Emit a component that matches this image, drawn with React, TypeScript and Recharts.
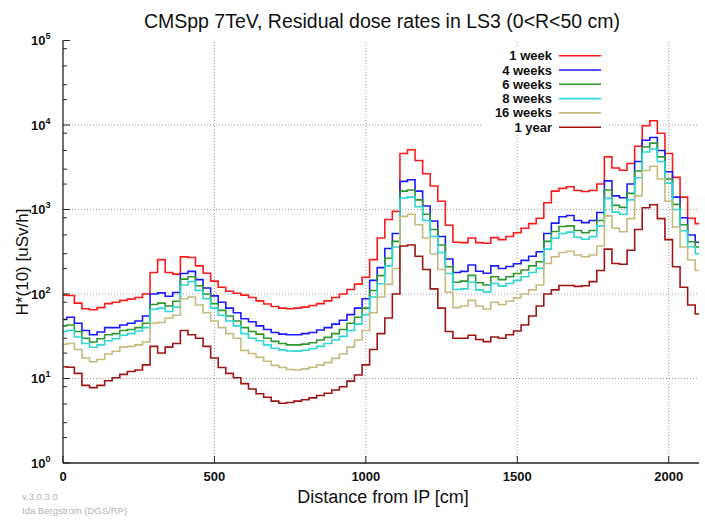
import React from 'react';
import { LineChart, Line, XAxis, YAxis, ReferenceLine } from 'recharts';

// distance from IP [cm], sampled every 25 cm
const DIST = [
  0, 25, 50, 75, 100, 125, 150, 175, 200, 225, 250, 275, 300, 325, 350, 375, 400, 425, 450, 475,
  500, 525, 550, 575, 600, 625, 650, 675, 700, 725, 750, 775, 800, 825, 850, 875, 900, 925, 950, 975,
  1000, 1025, 1050, 1075, 1100, 1125, 1150, 1175, 1200, 1225, 1250, 1275, 1300, 1325, 1350, 1375,
  1400, 1425, 1450, 1475, 1500, 1525, 1550, 1575, 1600, 1625, 1650, 1675, 1700, 1725, 1750, 1775,
  1800, 1825, 1850, 1875, 1900, 1925, 1950, 1975, 2000, 2025, 2050, 2075, 2100,
];

// H*(10) [uSv/h]
const WEEK_1 = [
  97, 96, 78, 67, 65, 69, 77, 80, 84, 87, 91, 100, 180, 255, 180, 172, 275, 270, 215, 176,
  142, 120, 108, 102, 97, 91, 83, 76, 71, 68, 67, 68, 70, 73, 77, 83, 91, 100, 113, 131,
  158, 255, 460, 760, 950, 4600, 5100, 3800, 2650, 1900, 1250, 650, 410, 405, 460, 405,
  398, 465, 440, 480, 530, 600, 680, 787, 1200, 1650, 1780, 1860, 1680, 1630, 1680, 2000,
  4200, 3100, 2920, 3500, 5600, 9800, 11250, 8000, 4600, 2400, 1400, 787, 680,
];
const WEEKS_4 = [
  50, 53, 45, 37, 33, 35.5, 40, 40, 43, 45, 48, 55, 100, 103, 94, 104, 175, 185, 148, 118,
  95, 80, 68, 60, 51, 47, 42, 38, 35, 33.5, 33, 33, 34, 35, 37.5, 40, 44, 49, 57, 68,
  88, 145, 205, 345, 520, 2150, 2250, 1650, 1100, 730, 480, 260, 180, 185, 220, 186,
  176, 215, 200, 212, 228, 250, 280, 316, 520, 690, 820, 850, 740, 700, 740, 920,
  2180, 1450, 1380, 2000, 3700, 6600, 7100, 5000, 2800, 1400, 800, 499, 410,
];
const WEEKS_6 = [
  42, 43, 36, 30, 27, 29.5, 33, 34, 37, 38, 40, 45, 75, 78, 72, 82, 150, 160, 125, 100,
  77, 64, 55, 48, 40, 36, 33.5, 30, 27.5, 26, 25, 25, 25.5, 26.5, 28.5, 30.7, 34, 38, 45, 53,
  68, 110, 165, 265, 420, 1650, 1700, 1300, 880, 580, 380, 210, 138, 142, 166, 136,
  128, 160, 148, 160, 175, 192, 215, 241, 420, 550, 630, 640, 565, 531, 565, 740,
  1700, 1120, 1060, 1550, 2850, 5500, 6100, 4200, 2300, 1150, 660, 416, 360,
];
const WEEKS_8 = [
  36, 37, 31, 26, 23.4, 25, 28, 29.5, 32.5, 34, 36.5, 40, 66, 68, 62, 70, 128, 140, 110, 88,
  68, 56, 48, 42, 34, 30, 28, 25, 22.8, 21.8, 21.2, 21.1, 21.6, 22.5, 24, 26, 28.5, 31.5, 37, 44,
  57, 92, 132, 215, 360, 1370, 1400, 1080, 740, 480, 310, 175, 113, 115, 138, 112,
  106, 133, 124, 133, 145, 160, 180, 201, 340, 456, 520, 540, 470, 445, 477, 640,
  1360, 930, 880, 1300, 2380, 4800, 5200, 3700, 2050, 1000, 560, 363, 300,
];
const WEEKS_16 = [
  25.4, 26, 22, 17.5, 15.8, 16.8, 19.5, 21, 23.5, 24, 25, 27, 45, 46, 52, 56, 88, 92, 74, 60,
  48, 40, 34, 30, 21.5, 19.8, 17.8, 16, 14.3, 13.5, 12.8, 12.6, 13, 13.6, 14.4, 15.4, 17.3, 19.5, 23.5, 28.6,
  37, 60, 92, 130, 200, 830, 880, 660, 460, 300, 195, 105, 69, 72, 84, 72,
  66, 80, 75, 82, 90, 100, 112, 128, 230, 276, 310, 320, 289, 276, 289, 370,
  840, 600, 545, 780, 1450, 2900, 3250, 2300, 1250, 620, 360, 253, 190,
];
const YEAR_1 = [
  13.8, 13.6, 11.5, 8.3, 7.8, 8.3, 9.4, 10.2, 11.2, 12.1, 12.6, 14.5, 24, 20, 23.5, 26, 37, 33, 30, 24,
  17.5, 13.5, 11.5, 10.2, 8.7, 7.5, 6.6, 6, 5.4, 5.1, 5.2, 5.4, 5.6, 5.9, 6.3, 6.7, 7.3, 8, 9.3, 11,
  14.5, 22, 34, 52, 100, 370, 380, 280, 195, 115, 68, 36, 30, 30, 32.5, 29,
  27.3, 31, 30, 33, 36.5, 43, 55, 72, 100, 112, 126, 126, 123, 125, 140, 190,
  340, 230, 225, 330, 580, 1050, 1140, 780, 440, 210, 120, 74, 58,
];

const SERIES_NAMES = ['1 week', '4 weeks', '6 weeks', '8 weeks', '16 weeks', '1 year'];
const SERIES_KEYS = ['w1', 'w4', 'w6', 'w8', 'w16', 'y1'];
const SERIES_COLORS = ['#ff1a1a', '#1a1aff', '#2e962e', '#2ed6d6', '#c4bb7c', '#a01414'];

const X_TICKS = [0, 500, 1000, 1500, 2000];
const X_GRID = [500, 1000, 1500, 2000];
const Y_MAJOR = [1, 10, 100, 1000, 10000, 100000];
const Y_GRID = [10, 100, 1000, 10000];
const Y_MINOR_STEPS = [2, 3, 5, 8];

const rows = DIST.map((d, i) => ({
  d,
  w1: WEEK_1[i],
  w4: WEEKS_4[i],
  w6: WEEKS_6[i],
  w8: WEEKS_8[i],
  w16: WEEKS_16[i],
  y1: YEAR_1[i],
}));

const yTicks: number[] = [];
Y_MAJOR.forEach((m, i) => {
  yTicks.push(m);
  if (i < Y_MAJOR.length - 1) Y_MINOR_STEPS.forEach(s => yTicks.push(m * s));
});

const FONT = '"Liberation Sans", Arial, sans-serif';
const AXIS = '#222';

const isMajor = (v: number) => Math.abs(Math.log10(v) - Math.round(Math.log10(v))) < 1e-6;

const LeftTick = (props: any) => {
  const { x, y, payload } = props;
  const v = payload.value;
  const major = isMajor(v);
  return (
    <g>
      <line x1={x} y1={y} x2={x + (major ? 7 : 4)} y2={y} stroke={AXIS} strokeWidth={1} />
      {major && (
        <text x={x - 12.5} y={y + 4.5} textAnchor="end" fontFamily={FONT} fontSize={13} fontWeight="bold" fill="#111">
          10<tspan dy={-6} fontSize={9}>{Math.round(Math.log10(v))}</tspan>
        </text>
      )}
    </g>
  );
};

const RightTick = (props: any) => {
  const { x, y, payload } = props;
  const major = isMajor(payload.value);
  return <line x1={x} y1={y} x2={x - (major ? 7 : 4)} y2={y} stroke={AXIS} strokeWidth={1} />;
};

const BottomTick = (props: any) => {
  const { x, y, payload } = props;
  return (
    <g>
      <line x1={x} y1={y} x2={x} y2={y - 7} stroke={AXIS} strokeWidth={1} />
      <text x={x} y={y + 18} textAnchor="middle" fontFamily={FONT} fontSize={13} fontWeight="bold" fill="#111">
        {payload.value}
      </text>
    </g>
  );
};

const TopTick = (props: any) => {
  const { x, y } = props;
  return <line x1={x} y1={y} x2={x} y2={y + 7} stroke={AXIS} strokeWidth={1} />;
};

export default function App() {
  return (
    <div style={{ position: 'absolute', left: 0, top: 0, width: 705, height: 526, background: '#fff' }}>
      <LineChart width={705} height={526} data={rows} margin={{ top: 40.5, right: 6, bottom: 0, left: 0 }}>
        <XAxis
          dataKey="d"
          type="number"
          domain={[0, 2100]}
          ticks={X_TICKS}
          height={63}
          tickLine={false}
          tickSize={0}
          tickMargin={0}
          tick={<BottomTick />}
          axisLine={{ stroke: AXIS, strokeWidth: 1.3 }}
          allowDataOverflow
        />
        <XAxis
          xAxisId="top"
          orientation="top"
          dataKey="d"
          type="number"
          domain={[0, 2100]}
          ticks={X_TICKS}
          height={0}
          tickLine={false}
          tickSize={0}
          tickMargin={0}
          tick={<TopTick />}
          axisLine={{ stroke: AXIS, strokeWidth: 1.3 }}
          allowDataOverflow
        />
        <YAxis
          type="number"
          scale="log"
          domain={[1, 100000]}
          ticks={yTicks}
          width={63}
          tickLine={false}
          tickSize={0}
          tickMargin={0}
          tick={<LeftTick />}
          interval={0}
          axisLine={{ stroke: AXIS, strokeWidth: 1.3 }}
          allowDataOverflow
        />
        <YAxis
          yAxisId="right"
          orientation="right"
          type="number"
          scale="log"
          domain={[1, 100000]}
          ticks={yTicks}
          width={0}
          tickLine={false}
          tickSize={0}
          tickMargin={0}
          tick={<RightTick />}
          interval={0}
          axisLine={{ stroke: AXIS, strokeWidth: 1.3 }}
          allowDataOverflow
        />
        {Y_GRID.map(v => (
          <ReferenceLine key={`gy${v}`} y={v} stroke="#9a9a9a" strokeDasharray="1 2" />
        ))}
        {X_GRID.map(v => (
          <ReferenceLine key={`gx${v}`} x={v} stroke="#9a9a9a" strokeDasharray="1 2" />
        ))}
        {SERIES_KEYS.map((k, i) => (
          <Line
            key={k}
            dataKey={k}
            name={SERIES_NAMES[i]}
            type="step"
            stroke={SERIES_COLORS[i]}
            strokeWidth={1.6}
            dot={false}
            isAnimationActive={false}
          />
        ))}
      </LineChart>
      <svg width={705} height={526} style={{ position: 'absolute', left: 0, top: 0, pointerEvents: 'none' }}>
        <text x={382} y={28} textAnchor="middle" fontFamily={FONT} fontSize={19.5} fill="#111">
          CMSpp 7TeV, Residual dose rates in LS3 (0&lt;R&lt;50 cm)
        </text>
        <text
          x={0}
          y={0}
          transform="translate(28 262) rotate(-90)"
          textAnchor="middle"
          fontFamily={FONT}
          fontSize={17}
          fill="#111"
        >
          H*(10) [uSv/h]
        </text>
        <text x={383} y={503} textAnchor="middle" fontFamily={FONT} fontSize={18} fill="#111">
          Distance from IP [cm]
        </text>
        <text x={22} y={500} fontFamily={FONT} fontSize={9.5} fill="#b4b4b4">v.3.0.3.0</text>
        <text x={22} y={514} fontFamily={FONT} fontSize={9.5} fill="#b4b4b4">Ida Bergstrom (DGS/RP)</text>
        <rect x={483} y={47} width={124} height={88} fill="#fff" />
        {SERIES_NAMES.map((n, i) => {
          const ry = 55.7 + i * 14.3;
          return (
            <g key={n}>
              <text x={552} y={ry + 4.5} textAnchor="end" fontFamily={FONT} fontSize={13} fontWeight="bold" fill="#111">
                {n}
              </text>
              <line x1={559} x2={601} y1={ry} y2={ry} stroke={SERIES_COLORS[i]} strokeWidth={1.6} />
            </g>
          );
        })}
      </svg>
    </div>
  );
}
